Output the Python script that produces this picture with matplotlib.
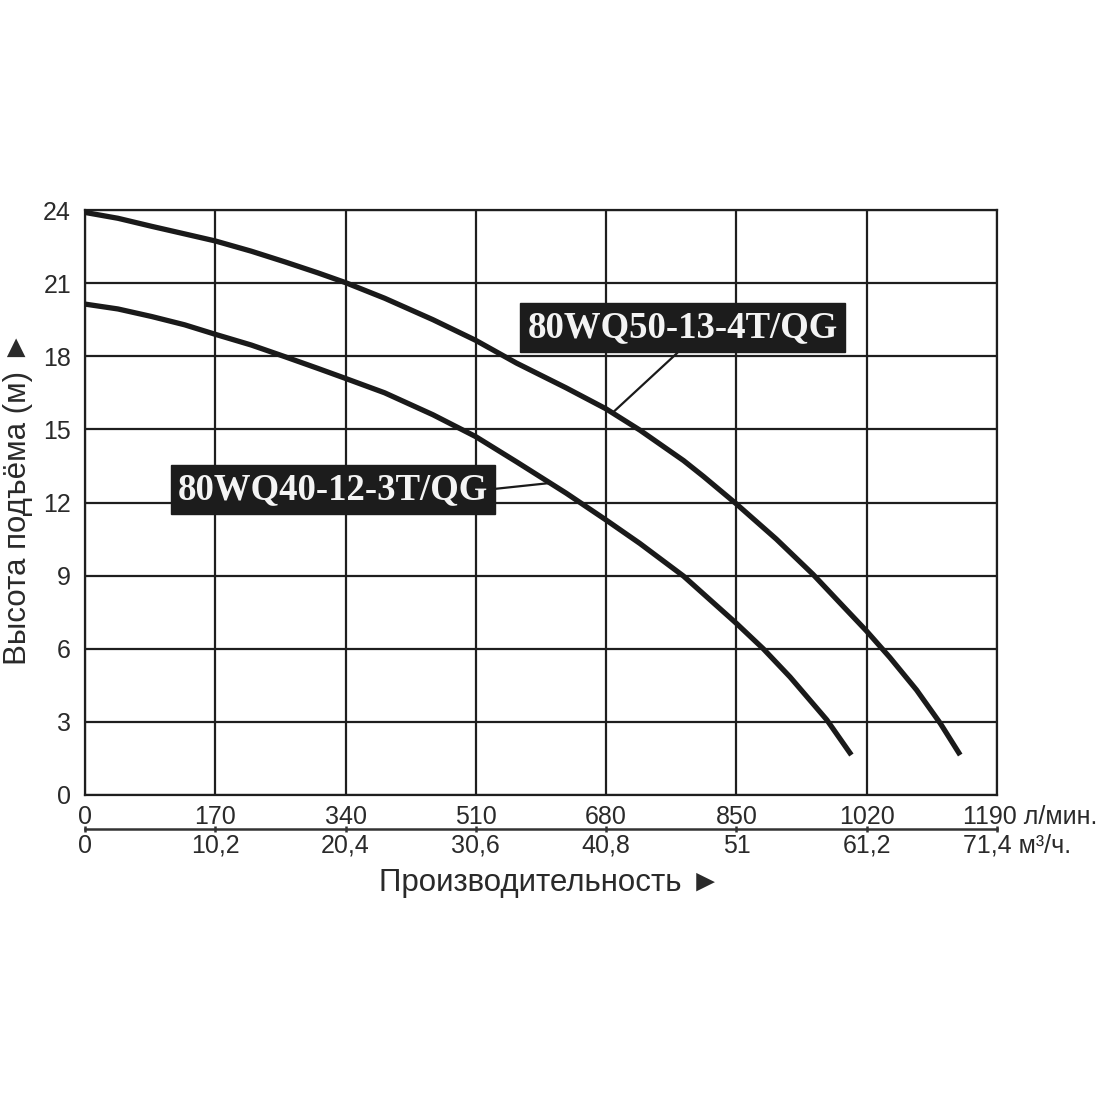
import matplotlib
matplotlib.use("Agg")
import matplotlib.pyplot as plt
import matplotlib.transforms as mtransforms

# ---- data ----
flow_upper = [0, 43, 87, 130, 170, 217, 261, 304, 340, 391, 454, 510, 563, 628,
              680, 724, 781, 807, 850, 902, 950, 989, 1020, 1050, 1085, 1116, 1142]
head_upper = [23.9, 23.66, 23.33, 23.02, 22.73, 22.31, 21.87, 21.42, 21.02, 20.38,
              19.5, 18.65, 17.72, 16.7, 15.84, 14.97, 13.72, 13.07, 11.94, 10.5,
              9.05, 7.75, 6.72, 5.65, 4.31, 2.94, 1.64]
flow_lower = [0, 43, 87, 130, 170, 217, 261, 304, 340, 391, 454, 510, 563, 628,
              680, 724, 781, 850, 885, 920, 968, 1000]
head_lower = [20.14, 19.94, 19.63, 19.29, 18.9, 18.46, 17.98, 17.5, 17.09, 16.5,
              15.6, 14.7, 13.67, 12.38, 11.28, 10.32, 8.98, 7.04, 6.0, 4.84, 3.08, 1.64]

x_ticks_lmin = [0, 170, 340, 510, 680, 850, 1020, 1190]
x_labels_lmin = ["0", "170", "340", "510", "680", "850", "1020", "1190 л/мин."]
x_ticks_m3h = [0, 10.2, 20.4, 30.6, 40.8, 51, 61.2, 71.4]
x_labels_m3h = ["0", "10,2", "20,4", "30,6", "40,8", "51", "61,2", "71,4 м³/ч."]
y_ticks = [0, 3, 6, 9, 12, 15, 18, 21, 24]

label_upper = "80WQ50-13-4T/QG"
label_lower = "80WQ40-12-3T/QG"

plt.rcParams['font.family'] = ['Liberation Sans', 'DejaVu Sans']

fig = plt.figure(figsize=(11, 11), dpi=100)
ax = fig.add_axes([85/1100, 1-795/1100, 912/1100, 585/1100])

ax.set_xlim(0, 1190)
ax.set_ylim(0, 24)

ax.set_xticks(x_ticks_lmin)
ax.set_yticks(y_ticks)
ax.grid(True, color='#1e1e1e', linewidth=1.6)
ax.set_axisbelow(True)
for s in ax.spines.values():
    s.set_color('#1e1e1e')
    s.set_linewidth(1.6)

TICK_FS = 18
ax.tick_params(axis='both', length=0, labelsize=TICK_FS, colors='#2a2a2a')
ax.tick_params(axis='x', pad=7)
ax.tick_params(axis='y', pad=10)
ax.set_xticklabels(x_labels_lmin)
ax.set_yticklabels([str(v) for v in y_ticks])

def fix_last(labels, dx_px):
    lab = labels[-1]
    lab.set_ha('left')
    lab.set_transform(lab.get_transform() + mtransforms.ScaledTranslation(dx_px/100, 0, fig.dpi_scale_trans))

fix_last(ax.get_xticklabels(), -34)

# secondary axis in m3/h
sec = ax.secondary_xaxis(-34/585, functions=(lambda q: q*0.06, lambda q: q/0.06))
sec.set_xticks(x_ticks_m3h)
sec.set_xticklabels(x_labels_m3h)
sec.spines['bottom'].set_linewidth(1.8)
sec.spines['bottom'].set_color('#333333')
sec.tick_params(axis='x', direction='inout', length=5, width=1.8, colors='#333333',
                labelsize=TICK_FS, pad=1, labelcolor='#2a2a2a')
fix_last(sec.get_xticklabels(), -34)

# curves
ax.plot(flow_upper, head_upper, color='#1a1a1a', linewidth=3.8,
        solid_capstyle='butt', solid_joinstyle='round', zorder=3)
ax.plot(flow_lower, head_lower, color='#1a1a1a', linewidth=3.8,
        solid_capstyle='butt', solid_joinstyle='round', zorder=3)

# labels with leader lines
box = dict(boxstyle='square,pad=0.2', facecolor='#1c1c1c', edgecolor='#1c1c1c')
ax.annotate(label_upper, xy=(689, 15.7), xytext=(780, 19.18),
            ha='center', va='center', fontsize=26.5, fontweight='bold',
            family=['Liberation Serif'], color='#f4f4f4', bbox=box,
            arrowprops=dict(arrowstyle='-', color='#1a1a1a', lw=1.6,
                            relpos=(0.51, 0.0), shrinkA=0, shrinkB=0), zorder=5)
ax.annotate(label_lower, xy=(607, 12.8), xytext=(323.6, 12.53),
            ha='center', va='center', fontsize=26.5, fontweight='bold',
            family=['Liberation Serif'], color='#f4f4f4', bbox=box,
            arrowprops=dict(arrowstyle='-', color='#1a1a1a', lw=1.6,
                            relpos=(1.0, 0.5), shrinkA=0, shrinkB=0), zorder=5)

fig.text(550/1100, 1-883/1100, "Производительность ►", ha='center', va='center',
         fontsize=22.5, color='#2a2a2a')
fig.text(18/1100, 1-498/1100, "Высота подъёма (м) ►", ha='center', va='center',
         rotation=90, fontsize=22.5, color='#2a2a2a')

fig.savefig("out.png", dpi=100, facecolor='white')
